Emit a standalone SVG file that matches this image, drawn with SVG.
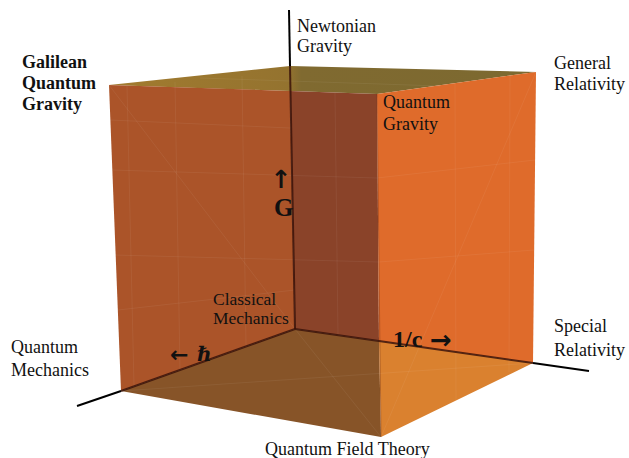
<svg xmlns="http://www.w3.org/2000/svg" width="629" height="458" viewBox="0 0 629 458">
<defs>
<linearGradient id="topGrad" x1="109" y1="0" x2="536" y2="0" gradientUnits="userSpaceOnUse">
<stop offset="0" stop-color="#A27B2F"/>
<stop offset="0.42" stop-color="#94732F"/>
<stop offset="0.45" stop-color="#806A30"/>
<stop offset="1" stop-color="#7C6930"/>
</linearGradient>
<style>
.lbl{font-family:"Liberation Serif","Times New Roman",serif;font-size:18px;fill:#111}
.bold{font-weight:bold}
.arr{font-family:"DejaVu Sans",sans-serif;font-weight:bold;fill:#111}
.grid{stroke:#ffffff;stroke-opacity:0.06;stroke-width:1;fill:none}
.axis{stroke:#000;stroke-width:2;fill:none}
.inner{stroke:#3a1208;stroke-width:2;fill:none;stroke-opacity:0.85}
</style>
</defs>
<rect width="629" height="458" fill="#fff"/>
<g id="cube">
<polygon points="109,85 290,66 536,72 377,94" fill="url(#topGrad)"/>
<polygon points="109,85 290,91 295,329 121,391" fill="#AB5429"/>
<polygon points="290,91 377,94 379,341 295,329" fill="#8A4329"/>
<polygon points="377,94 536,72 533,363 379,341" fill="#DF6B2B"/>
<polygon points="121,391 295,329 379,341 381,437" fill="#875428"/>
<polygon points="379,341 533,363 381,437" fill="#DA812F"/>
<g class="grid">
<line x1="109" y1="85" x2="295" y2="329"/>
<line x1="381" y1="437" x2="536" y2="72"/>
<line x1="121" y1="391" x2="533" y2="363"/>
<line x1="295" y1="329" x2="381" y2="437"/>
<line x1="127" y1="86" x2="134" y2="386"/>
<line x1="175" y1="82" x2="180" y2="370"/>
<line x1="242" y1="76" x2="246" y2="346"/>
<line x1="335" y1="93" x2="338" y2="336"/>
<line x1="455" y1="83" x2="456" y2="400"/>
<line x1="510" y1="75" x2="509" y2="372"/>
<line x1="112" y1="170" x2="377" y2="178"/>
<line x1="114" y1="255" x2="379" y2="262"/>
<line x1="377" y1="178" x2="535" y2="160"/>
<line x1="379" y1="262" x2="534" y2="250"/>
<line x1="110" y1="120" x2="290" y2="128"/>
<line x1="118" y1="310" x2="295" y2="290"/>
<line x1="200" y1="78" x2="440" y2="86"/>
</g>
<line x1="377" y1="94" x2="381" y2="437" stroke="#6a2e18" stroke-width="1" stroke-opacity="0.35"/>
</g>
<g id="connectors">
<line class="axis" x1="289" y1="10" x2="290" y2="66"/>
<line class="inner" x1="290" y1="66" x2="295" y2="329"/>
<line class="inner" x1="295" y1="329" x2="121" y2="391"/>
<line class="axis" x1="121" y1="391" x2="77" y2="406"/>
<line class="inner" x1="295" y1="329" x2="533" y2="363"/>
<line class="axis" x1="533" y1="363" x2="589" y2="371"/>
</g>
<g id="newtonian-gravity"><text class="lbl" x="297" y="32">Newtonian</text><text class="lbl" x="297" y="52">Gravity</text></g>
<g id="general-relativity"><text class="lbl" x="554" y="69">General</text><text class="lbl" x="554" y="90">Relativity</text></g>
<g id="galilean-quantum-gravity"><text class="lbl bold" x="22" y="68">Galilean</text><text class="lbl bold" x="22" y="89">Quantum</text><text class="lbl bold" x="22" y="110">Gravity</text></g>
<g id="quantum-gravity"><text class="lbl" x="383" y="108">Quantum</text><text class="lbl" x="383" y="130">Gravity</text></g>
<g id="g-label"><text class="arr" x="281" y="188" text-anchor="middle" style="font-size:25px">↑</text><text class="lbl bold" x="274" y="216" style="font-size:25px">G</text></g>
<g id="classical-mechanics"><text class="lbl" x="213" y="305" style="font-size:17.5px">Classical</text><text class="lbl" x="213" y="324" style="font-size:17.5px">Mechanics</text></g>
<g id="quantum-mechanics"><text class="lbl" x="11" y="353">Quantum</text><text class="lbl" x="11" y="376">Mechanics</text></g>
<g id="hbar-label"><text x="170" y="362" class="arr" style="font-size:22px">←</text><text x="197" y="361" style="font-family:'DejaVu Serif',serif;font-weight:bold;font-style:italic;font-size:20px;fill:#111">ℏ</text></g>
<g id="c-label"><text class="lbl bold" x="393" y="347" style="font-size:24px">1/c</text><text class="arr" x="430" y="349" style="font-size:26px">→</text></g>
<g id="special-relativity"><text class="lbl" x="554" y="332">Special</text><text class="lbl" x="554" y="356">Relativity</text></g>
<g id="quantum-field-theory"><text class="lbl" x="265" y="455">Quantum Field Theory</text></g>
</svg>
